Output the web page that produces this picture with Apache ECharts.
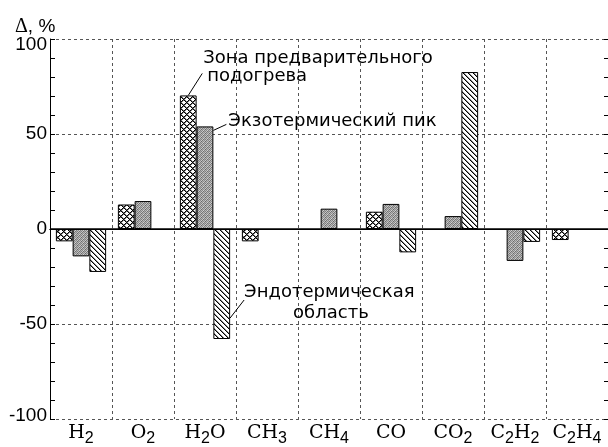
<!DOCTYPE html>
<html><head><meta charset="utf-8">
<script src="https://cdn.jsdelivr.net/npm/echarts@6/dist/echarts.min.js"></script>
<style>html,body{margin:0;padding:0;background:#fff}#c{width:608px;height:447px}</style>
</head><body><div id="c"></div>
<script>
const categories = ['H2','O2','H2O','CH3','CH4','CO','CO2','C2H2','C2H4'];
const preheatZone = [-6.5, 12.9, 70.3, -6.5, null, 9.1, null, null, -5.8];
const exoPeak     = [-14.4, 14.7, 54, null, 10.7, 13.2, 6.8, -16.8, null];
const endoRegion  = [-22.6, null, -57.9, null, null, -12.3, 82.6, -6.8, null];
const yTickLabels = [-100, -50, 0, 50, 100];
const annoPreheat = ['Зона предварительного', 'подогрева'];
const annoExo = 'Экзотермический пик';
const annoEndo = ['Эндотермическая', 'область'];

function tile(w, h, draw){ const c=document.createElement('canvas'); c.width=w; c.height=h; const g=c.getContext('2d'); draw(g); return c; }
const crossTile = tile(6,6,g=>{
  g.fillStyle='#fff'; g.fillRect(0,0,6,6);
  g.fillStyle='#000';
  for(let i=0;i<6;i++){ g.fillRect(i,i,1,1); g.fillRect((6-i)%6,i,1,1); }
  g.fillStyle='#777';
  for(let i=0;i<6;i++){ g.fillRect((i+1)%6,i,1,1); g.fillRect((7-i)%6,i,1,1); }
});
const dotTile = tile(4,4,g=>{
  const v=[[0x88,0xc8,0x78,0xb8],[0xc0,0x68,0xb0,0x90],[0x80,0xb8,0x88,0xd0],[0xa8,0x80,0xc8,0x70]];
  for(let y=0;y<4;y++)for(let x=0;x<4;x++){const k=v[y][x]; g.fillStyle=`rgb(${k},${k},${k})`; g.fillRect(x,y,1,1);}
});
const diagTile = tile(5,5,g=>{
  g.fillStyle='#fff'; g.fillRect(0,0,5,5);
  g.fillStyle='#000';
  for(let i=0;i<5;i++) g.fillRect(i,i,1,1);
  g.fillStyle='#888';
  for(let i=0;i<5;i++) g.fillRect((i+1)%5,i,1,1);
});

const BARW = 0.27;
function fmtFormula(v){
  return v.split(/(\d+)/).filter(Boolean).map(p=>/\d/.test(p)?`{s|${p}}`:`{n|${p}}`).join('');
}
const gridDash = {type:[3,3], color:'#555', width:1};
const chart = echarts.init(document.getElementById('c'), null, {renderer:'canvas'});
const barBase = {type:'bar', barWidth:(BARW*100)+'%', barGap:'0%', xAxisIndex:0, yAxisIndex:0,
  emphasis:{disabled:true}, animation:false};
const yl = {fontFamily:'Liberation Sans', fontSize:19, color:'#000'};
chart.setOption({
  animation:false,
  grid:{left:50, right:0, top:39, bottom:28, containLabel:false},
  xAxis:[
    {type:'category', position:'bottom', data:categories,
     axisLine:{lineStyle:{color:'#000', width:1}},
     axisTick:{alignWithLabel:true, inside:true, length:6, lineStyle:{color:'#000'}},
     axisLabel:{interval:0, margin:0, color:'#000', formatter:fmtFormula,
       rich:{n:{fontFamily:'DejaVu Serif', fontSize:19, color:'#000', lineHeight:28},
             s:{fontFamily:'Liberation Sans', fontSize:16, color:'#000', lineHeight:16, padding:[12,0,0,0]}}},
     splitLine:{show:true, lineStyle:gridDash}},
    {type:'category', position:'top', data:categories,
     axisLine:{lineStyle:{color:'#000', width:1}},
     axisTick:{alignWithLabel:true, inside:true, length:6, lineStyle:{color:'#000'}},
     axisLabel:{show:false}, splitLine:{show:false}}
  ],
  yAxis:[
    {type:'value', position:'left', min:-100, max:100, interval:50,
     axisLine:{show:true, lineStyle:{color:'#000', width:1}},
     axisTick:{show:false},
     axisLabel:Object.assign({margin:3,
       formatter:v=> v===100?'{t|100}':(v===-100?'{b|-100}':String(v)),
       rich:{t:Object.assign({padding:[12,0,0,0]}, yl), b:Object.assign({padding:[0,0,6,0]}, yl)}}, yl),
     splitLine:{show:true, lineStyle:gridDash}},
    {type:'value', position:'left', offset:0, min:-100, max:100, interval:10,
     axisLine:{show:false}, axisTick:{show:true, inside:true, length:5, lineStyle:{color:'#000'}},
     axisLabel:{show:false}, splitLine:{show:false}},
    {type:'value', position:'right', offset:0, min:-100, max:100, interval:10,
     axisLine:{show:false}, axisTick:{show:true, inside:true, length:4, lineStyle:{color:'#000'}},
     axisLabel:{show:false}, splitLine:{show:false}}
  ],
  series:[
    Object.assign({}, barBase, {name:'Зона предварительного подогрева', data:preheatZone,
      itemStyle:{color:{image:crossTile, repeat:'repeat'}, borderColor:'#000', borderWidth:1},
      markLine:{silent:true, symbol:'none', label:{show:false}, animation:false,
        lineStyle:{color:'#000', type:'solid', width:1.5}, data:[{yAxis:0}]}}),
    Object.assign({}, barBase, {name:'Экзотермический пик', data:exoPeak,
      itemStyle:{color:{image:dotTile, repeat:'repeat'}, borderColor:'#000', borderWidth:1}}),
    Object.assign({}, barBase, {name:'Эндотермическая область', data:endoRegion,
      itemStyle:{color:{image:diagTile, repeat:'repeat'}, borderColor:'#000', borderWidth:1}})
  ]
});

// annotations anchored to bars
const px = (i,v)=>chart.convertToPixel({xAxisIndex:0, yAxisIndex:0},[i,v]);
const band = px(1,0)[0]-px(0,0)[0];
const bw = band*BARW;
const iH2O = categories.indexOf('H2O');
const a1 = px(iH2O, preheatZone[iH2O]); const x1 = a1[0]-bw*1.0, y1 = a1[1];
const a2 = px(iH2O, exoPeak[iH2O]); const x2 = a2[0]+bw*0.5, y2 = a2[1]+4;
const a3 = px(iH2O, endoRegion[iH2O]); const x3 = a3[0]+bw*1.5, y3 = a3[1]-21;
const font = '18px "DejaVu Sans"';
const txt = (x,y,s,align)=>({type:'text', x, y, silent:true, style:{text:s, font, fill:'#000', align:align||'left', verticalAlign:'middle'}});
const line = (xa,ya,xb,yb)=>({type:'line', silent:true, shape:{x1:xa,y1:ya,x2:xb,y2:yb}, style:{stroke:'#000', lineWidth:1}});
chart.setOption({graphic:[
  line(x1,y1,x1+14,y1-22),
  txt(x1+15, y1-37, annoPreheat[0]), txt(x1+19, y1-19, annoPreheat[1]),
  line(x2,y2,x2+13,y2-6),
  txt(x2+15, y2-9, annoExo),
  line(x3,y3,x3+14,y3-18),
  txt(x3+14, y3-26, annoEndo[0]), txt(x3+63, y3-5, annoEndo[1]),
  {type:'text', left:15, top:17, silent:true, style:{rich:{d:{fontFamily:'Liberation Serif', fontSize:20, fill:'#000'}, p:{fontFamily:'Liberation Sans', fontSize:19, fill:'#000'}}, text:'{d|Δ}{p|, %}'}}
]});
</script></body></html>
